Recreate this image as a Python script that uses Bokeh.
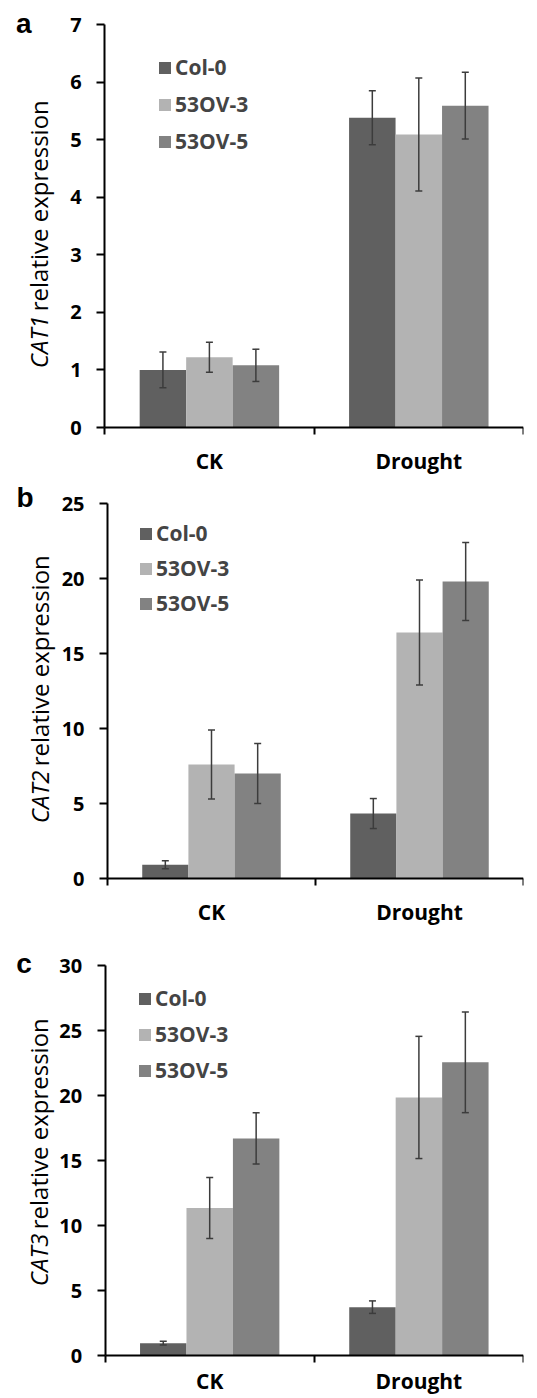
import numpy as np
from bokeh.plotting import figure
from bokeh.models import (Range1d, FixedTicker, Whisker, ColumnDataSource, Legend,
                          LegendItem, TeeHead)
from bokeh.core.properties import value
from bokeh.layouts import column
from bokeh.embed import file_html
from bokeh.resources import INLINE

# ---------------- data ----------------
categories = ["CK", "Drought"]
series = ["Col-0", "53OV-3", "53OV-5"]

# CAT1 (panel a)
cat1_col0 = [1.00, 5.38]
cat1_ov3 = [1.22, 5.09]
cat1_ov5 = [1.08, 5.59]
cat1_col0_err = [0.31, 0.47]
cat1_ov3_err = [0.26, 0.98]
cat1_ov5_err = [0.28, 0.58]

# CAT2 (panel b)
cat2_col0 = [0.92, 4.33]
cat2_ov3 = [7.6, 16.4]
cat2_ov5 = [7.0, 19.8]
cat2_col0_err = [0.27, 1.0]
cat2_ov3_err = [2.3, 3.5]
cat2_ov5_err = [2.0, 2.6]

# CAT3 (panel c)
cat3_col0 = [0.95, 3.72]
cat3_ov3 = [11.35, 19.85]
cat3_ov5 = [16.7, 22.55]
cat3_col0_err = [0.15, 0.48]
cat3_ov3_err = [2.35, 4.7]
cat3_ov5_err = [1.97, 3.87]

y_ticks_a = [0, 1, 2, 3, 4, 5, 6, 7]
y_ticks_b = [0, 5, 10, 15, 20, 25]
y_ticks_c = [0, 5, 10, 15, 20, 25, 30]

# ---------------- style ----------------
colors = ["#606060", "#b3b3b3", "#828282"]
BOLD_FONT = "Open Sans"
LETTER_FONT = "Liberation Sans"
bar_w = 0.222
offsets = [-bar_w, 0.0, bar_w]
FIG_W = 537
AXIS_X = 107          # pixel position of the y axis inside each figure


def make_panel(gene, means, errs, yticks, letter, fig_h, top_b, bot_b, right_b,
               x_standoff, leg_x, leg_top, leg_pitch, letter_mid, title_center):
    frame_w = FIG_W - right_b
    zero_px = fig_h - bot_b                      # pixel row of y = 0
    cat_px = (frame_w - AXIS_X) / 2.0
    x0 = -AXIS_X / cat_px
    ymax = yticks[-1]
    units_per_px = ymax / (zero_px - top_b)
    y1 = ymax + top_b * units_per_px
    y_lo = -bot_b * units_per_px

    def px_x(px):
        return x0 + px / cat_px

    def px_y(py):
        return (zero_px - py) * units_per_px

    p = figure(width=FIG_W, height=fig_h,
               min_border_left=0, min_border_right=right_b,
               min_border_top=0, min_border_bottom=0,
               x_range=Range1d(x0, 2.0), y_range=Range1d(y_lo, y1),
               output_backend="svg", toolbar_location=None,
               background_fill_color="white", border_fill_color="white")
    p.outline_line_color = None
    p.grid.visible = False

    items = []
    for i, name in enumerate(series):
        xs = np.arange(len(categories)) + 0.5 + offsets[i]
        m = np.array(means[i])
        e = np.array(errs[i])
        src = ColumnDataSource(dict(x=xs, top=m, upper=m + e, lower=m - e))
        r = p.vbar(x="x", top="top", bottom=0, width=bar_w, source=src,
                   fill_color=colors[i], line_color=None)
        items.append(LegendItem(label=name, renderers=[r]))
        w = Whisker(base="x", upper="upper", lower="lower", source=src,
                    line_color="#3c3c3c", line_width=1.5, level="overlay",
                    upper_head=TeeHead(size=7, line_color="#3c3c3c", line_width=1.5),
                    lower_head=TeeHead(size=7, line_color="#3c3c3c", line_width=1.5))
        p.add_layout(w)

    # y axis drawn at x = 0 inside the frame
    ya = p.yaxis[0]
    ya.fixed_location = 0
    ya.bounds = (0, ymax)
    ya.ticker = FixedTicker(ticks=yticks)
    ya.axis_line_width = 2
    ya.axis_line_color = "black"
    ya.major_tick_out = 8
    ya.major_tick_in = 0
    ya.major_tick_line_width = 2
    ya.minor_tick_line_color = None
    ya.major_label_standoff = 15
    ya.major_label_text_font = BOLD_FONT
    ya.major_label_text_font_style = "bold"
    ya.major_label_text_font_size = "20px"
    ya.major_label_text_color = "black"

    # x axis drawn at y = 0: labels at category centres, ticks at category boundaries
    xa = p.xaxis[0]
    xa.fixed_location = 0
    xa.bounds = (0, 2)
    xa.ticker = FixedTicker(ticks=[0.5, 1.5], minor_ticks=[0, 1, 2])
    xa.major_label_overrides = {0.5: categories[0], 1.5: categories[1]}
    xa.axis_line_width = 2
    xa.axis_line_color = "black"
    xa.major_tick_out = 0
    xa.major_tick_in = 0
    xa.minor_tick_out = 7
    xa.minor_tick_in = 0
    xa.minor_tick_line_width = 2
    xa.minor_tick_line_color = "black"
    xa.major_label_standoff = x_standoff
    xa.major_label_text_font = BOLD_FONT
    xa.major_label_text_font_style = "bold"
    xa.major_label_text_font_size = "21px"
    xa.major_label_text_color = "black"

    # legend
    h_est = 29
    spacing = leg_pitch - h_est
    L = 3 * h_est + 2 * spacing
    T = top_b + leg_top - (h_est - 15) / 2
    vy = fig_h - T - L
    legend = Legend(items=items, location=(leg_x, vy), glyph_width=15, glyph_height=15,
                    label_standoff=3, spacing=spacing, padding=0, margin=0,
                    border_line_color=None, background_fill_alpha=0,
                    label_text_font=BOLD_FONT, label_text_font_style="bold",
                    label_text_font_size="21px", label_height=15)
    p.add_layout(legend)

    # y title: italic gene name + regular text, rotated
    fs = 24
    w_gene = 2.15 * fs
    w_space = 0.22 * fs
    w_rest = 8.77 * fs
    total = w_gene + w_space + w_rest
    start_px = title_center + total / 2          # lower end of the title, in pixels
    p.text(x=[px_x(39)], y=[px_y(start_px)], text=[gene], angle=np.pi / 2,
           text_font=value("Open Sans"), text_font_style="italic",
           text_font_size=f"{fs}px", text_align=value("left"),
           text_baseline=value("middle"), text_color="black")
    p.text(x=[px_x(39)], y=[px_y(start_px - w_gene - w_space)],
           text=["relative expression"], angle=np.pi / 2,
           text_font=value("Open Sans"), text_font_size=f"{fs}px",
           text_align=value("left"), text_baseline=value("middle"), text_color="black")
    # panel letter
    p.text(x=[px_x(16)], y=[px_y(letter_mid)], text=[letter],
           text_font=value(LETTER_FONT), text_font_style="bold", text_font_size="28px",
           text_align=value("left"), text_baseline=value("middle"), text_color="black")
    return p


pa = make_panel("CAT1", [cat1_col0, cat1_ov3, cat1_ov5],
                [cat1_col0_err, cat1_ov3_err, cat1_ov5_err], y_ticks_a, "a",
                fig_h=475, top_b=24, bot_b=48, right_b=0, x_standoff=12,
                leg_x=157, leg_top=33, leg_pitch=38, letter_mid=23, title_center=234)
pb = make_panel("CAT2", [cat2_col0, cat2_ov3, cat2_ov5],
                [cat2_col0_err, cat2_ov3_err, cat2_ov5_err], y_ticks_b, "b",
                fig_h=451, top_b=28, bot_b=48, right_b=14, x_standoff=12,
                leg_x=138, leg_top=20, leg_pitch=36, letter_mid=22, title_center=214)
pc = make_panel("CAT3", [cat3_col0, cat3_ov3, cat3_ov5],
                [cat3_col0_err, cat3_ov3_err, cat3_ov5_err], y_ticks_c, "c",
                fig_h=469, top_b=39, bot_b=40, right_b=2, x_standoff=4,
                leg_x=137, leg_top=23, leg_pitch=37, letter_mid=37, title_center=226)

layout = column(pa, pb, pc, spacing=0)
open("out.html", "w").write(file_html(layout, INLINE))
